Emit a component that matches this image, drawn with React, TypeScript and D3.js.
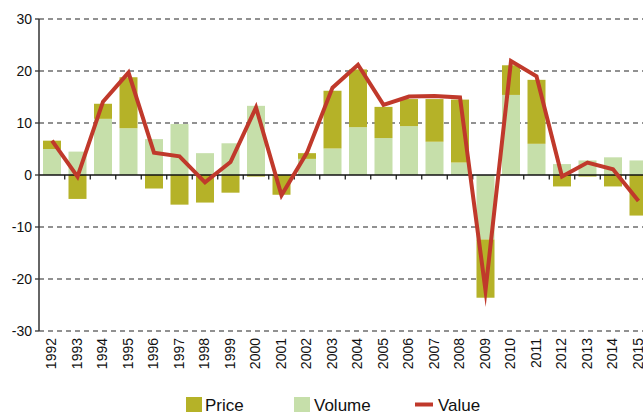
import React from 'react';
import * as d3 from 'd3';

const years = [
  '1992', '1993', '1994', '1995', '1996', '1997', '1998', '1999', '2000', '2001', '2002', '2003',
  '2004', '2005', '2006', '2007', '2008', '2009', '2010', '2011', '2012', '2013', '2014', '2015',
];
const volume = [5.0, 4.5, 10.8, 9.0, 6.9, 9.8, 4.2, 6.1, 13.3, 0, 3.1, 5.1, 9.2, 7.1, 9.4, 6.4, 2.4, -12.4, 15.4, 6.0, 2.1, 2.8, 3.4, 2.8];
const price = [1.6, -4.6, 2.9, 9.8, -2.6, -5.7, -5.3, -3.4, -0.3, -3.8, 1.1, 11.1, 11.1, 6.0, 5.2, 8.2, 12.1, -11.2, 5.7, 12.3, -2.2, -0.3, -2.2, -7.8];
const value = [6.6, -0.3, 14.1, 19.7, 4.3, 3.6, -1.4, 2.5, 13.0, -3.9, 4.3, 16.8, 21.2, 13.5, 15.1, 15.2, 14.9, -22.2, 21.9, 19.0, -0.3, 2.4, 1.1, -5.0];
const yTicks = [-30, -20, -10, 0, 10, 20, 30];

const W = 643;
const H = 412;
const PRICE_COLOR = '#b5b228';
const VOLUME_COLOR = '#c6dfaa';
const VALUE_COLOR = '#c0392b';
const FONT = '"Liberation Sans", Arial, sans-serif';

export default function App() {
  // scales
  const x = d3.scaleBand<string>().domain(years).range([39.25, 651.25]).padding(0);
  const y = d3.scaleLinear().domain([-30, 30]).range([331, 19]);
  const barW = x.bandwidth() * 0.706;
  const cx = (yr: string) => (x(yr) as number) + x.bandwidth() / 2;

  // stacked pieces: volume from 0, price stacked on volume if same sign
  const bars = years.map((yr, i) => {
    const v = volume[i];
    const p = price[i];
    const pBase = Math.sign(p) === Math.sign(v) ? v : 0;
    return { yr, v, pStart: pBase, pEnd: pBase + p };
  });

  const line = d3.line<number>()
    .x((_, i) => cx(years[i]))
    .y((d) => y(d));

  return (
    <svg width={W} height={H} style={{ position: 'fixed', left: 0, top: 0, background: '#fff' }} fontFamily={FONT}>
      {/* grid */}
      {yTicks.filter((t) => t !== 0).map((t) => (
        <line key={t} x1={39} x2={W} y1={y(t)} y2={y(t)} stroke="#6e6e6e" strokeWidth={1.3} strokeDasharray="5,4" />
      ))}

      {/* bars */}
      {bars.map((b) => (
        <g key={b.yr}>
          <rect x={cx(b.yr) - barW / 2} width={barW} y={y(Math.max(0, b.v))} height={Math.abs(y(b.v) - y(0))} fill={VOLUME_COLOR} />
          <rect
            x={cx(b.yr) - barW / 2}
            width={barW}
            y={y(Math.max(b.pStart, b.pEnd))}
            height={Math.abs(y(b.pEnd) - y(b.pStart))}
            fill={PRICE_COLOR}
          />
        </g>
      ))}

      {/* zero axis with ticks at band boundaries */}
      <line x1={39} x2={W} y1={y(0)} y2={y(0)} stroke="#111" strokeWidth={1.5} />
      {years.slice(1).map((yr) => (
        <line key={yr} x1={x(yr)} x2={x(yr)} y1={y(0)} y2={y(0) + 4.5} stroke="#111" strokeWidth={1.2} />
      ))}

      {/* y axis */}
      <line x1={39} x2={39} y1={y(30)} y2={y(-30)} stroke="#333" strokeWidth={1.5} />
      {yTicks.map((t) => (
        <g key={t}>
          <line x1={35} x2={39} y1={y(t)} y2={y(t)} stroke="#333" strokeWidth={1.3} />
          <text x={32} y={y(t)} dy="0.36em" textAnchor="end" fontSize={14} fill="#111">{t}</text>
        </g>
      ))}

      {/* value line */}
      <path d={line(value) ?? ''} fill="none" stroke={VALUE_COLOR} strokeWidth={4} strokeLinejoin="miter" strokeMiterlimit={20} />

      {/* x labels */}
      {years.map((yr) => (
        <text
          key={yr}
          transform={`translate(${cx(yr) - 1},338) rotate(-90)`}
          dy="0.36em"
          textAnchor="end"
          fontSize={14}
          fill="#111"
        >
          {yr}
        </text>
      ))}

      {/* legend */}
      <rect x={186} y={397} width={16} height={16} fill={PRICE_COLOR} />
      <text x={205} y={410.5} fontSize={17} fill="#111">Price</text>
      <rect x={294} y={397} width={16} height={16} fill={VOLUME_COLOR} />
      <text x={314} y={410.5} fontSize={17} fill="#111">Volume</text>
      <line x1={415} x2={433} y1={404.5} y2={404.5} stroke={VALUE_COLOR} strokeWidth={4} />
      <text x={438} y={410.5} fontSize={17} fill="#111">Value</text>
    </svg>
  );
}
